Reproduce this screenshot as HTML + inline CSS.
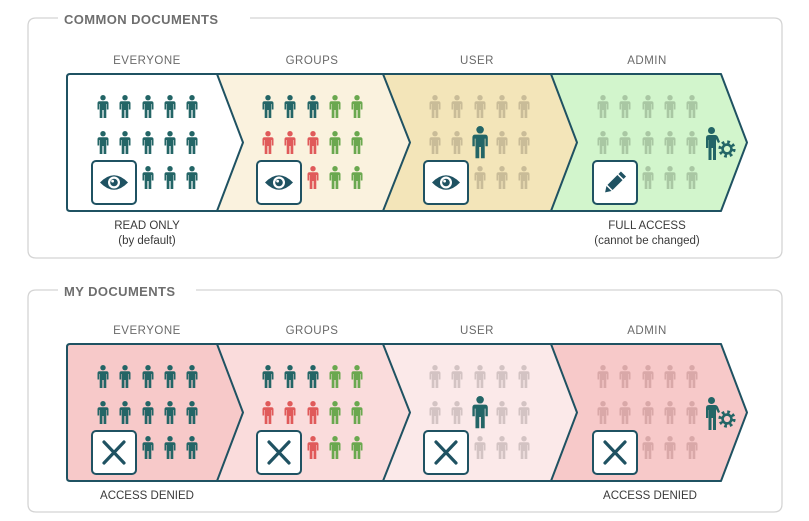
<!DOCTYPE html>
<html><head><meta charset="utf-8"><style>
html,body{margin:0;padding:0;background:#fff;}
svg{display:block;font-family:"Liberation Sans",sans-serif;}
</style></head><body>
<svg width="809" height="521" viewBox="0 0 809 521" xmlns="http://www.w3.org/2000/svg">
<defs>
<symbol id="p" viewBox="0 0 13 23" width="13" height="23" overflow="visible">
<circle cx="6.5" cy="2.7" r="2.7"/>
<path d="M1,8.2 Q1,6.2 3,6.2 H10 Q12,6.2 12,8.2 V14.5 H10.3 V9 H9.8 V23 H7.1 V15 H5.9 V23 H3.2 V9 H2.7 V14.5 H1 Z"/>
</symbol>
<g id="eye">
<rect x="0" y="0" width="44" height="43" rx="4" fill="#fff" stroke="#1f5262" stroke-width="2"/>
<path d="M8,21.5 Q22,7 36,21.5 Q22,36 8,21.5 Z" fill="#1f5262"/>
<circle cx="22" cy="21.5" r="6" fill="#fff"/>
<circle cx="22" cy="21.5" r="3.8" fill="#1f5262"/>
<circle cx="20.6" cy="20.1" r="1.4" fill="#fff"/>
</g>
<g id="xb">
<rect x="0" y="0" width="44" height="43" rx="4" fill="#fff" stroke="#1f5262" stroke-width="2"/>
<path d="M12,11 L32,32 M32,11 L12,32" stroke="#1f5262" stroke-width="3.2" stroke-linecap="round"/>
</g>
<g id="adm">
<circle cx="5.5" cy="3.5" r="3.5" fill="#236566"/>
<path d="M0,11 Q0,8 3,8 H9 Q11,8 12,10 L14,15 L12,16 L10,12 V33 H7 V21 H5.5 V33 H2.5 V13 H2.2 V21 H0 Z" fill="#236566"/>
<circle cx="21" cy="22" r="6.8" fill="none" stroke="#236566" stroke-width="3.6" stroke-dasharray="2.6 2.74"/>
<circle cx="21" cy="22" r="4.4" fill="none" stroke="#236566" stroke-width="2.6"/>
</g>
</defs>

<path d="M58,18 H36 Q28,18 28,26 V250 Q28,258 36,258 H774 Q782,258 782,250 V26 Q782,18 774,18 H250" fill="none" stroke="#d4d4d4" stroke-width="1.3"/>
<text x="64" y="24" font-size="13" font-weight="bold" fill="#6e6e6e" letter-spacing="0.4">COMMON DOCUMENTS</text>
<path d="M58,290 H36 Q28,290 28,298 V504 Q28,512 36,512 H774 Q782,512 782,504 V298 Q782,290 774,290 H196" fill="none" stroke="#d4d4d4" stroke-width="1.3"/>
<text x="64" y="296" font-size="13" font-weight="bold" fill="#6e6e6e" letter-spacing="0.4">MY DOCUMENTS</text>

<g font-size="11.5" fill="#6a6a6a" text-anchor="middle" letter-spacing="0.5">
<text x="147" y="64">EVERYONE</text><text x="312" y="64">GROUPS</text><text x="477" y="64">USER</text><text x="647" y="64">ADMIN</text>
<text x="147" y="334">EVERYONE</text><text x="312" y="334">GROUPS</text><text x="477" y="334">USER</text><text x="647" y="334">ADMIN</text>
</g>

<path d="M70,74 H217 L243,142.5 L217,211 H70 Q67,211 67,208 V77 Q67,74 70,74 Z" fill="#fff"/>
<path d="M217,74 H383 L410,142.5 L383,211 H217 L243,142.5 Z" fill="#faf2de"/>
<path d="M383,74 H551 L577,142.5 L551,211 H383 L410,142.5 Z" fill="#f3e5b9"/>
<path d="M551,74 H721 L747,142.5 L721,211 H551 L577,142.5 Z" fill="#d2f5cc"/>
<g fill="none" stroke="#1f5262" stroke-width="2" stroke-linejoin="round">
<path d="M70,74 H721 L747,142.5 L721,211 H70 Q67,211 67,208 V77 Q67,74 70,74 Z"/>
<path d="M217,74 L243,142.5 L217,211 M383,74 L410,142.5 L383,211 M551,74 L577,142.5 L551,211"/>
</g>

<path d="M70,344 H217 L243,412.5 L217,481 H70 Q67,481 67,478 V347 Q67,344 70,344 Z" fill="#f7c9c9"/>
<path d="M217,344 H383 L410,412.5 L383,481 H217 L243,412.5 Z" fill="#fadcdc"/>
<path d="M383,344 H551 L577,412.5 L551,481 H383 L410,412.5 Z" fill="#fbe9e9"/>
<path d="M551,344 H721 L747,412.5 L721,481 H551 L577,412.5 Z" fill="#f7c9c9"/>
<g fill="none" stroke="#1f5262" stroke-width="2" stroke-linejoin="round">
<path d="M70,344 H721 L747,412.5 L721,481 H70 Q67,481 67,478 V347 Q67,344 70,344 Z"/>
<path d="M217,344 L243,412.5 L217,481 M383,344 L410,412.5 L383,481 M551,344 L577,412.5 L551,481"/>
</g>

<g transform="translate(96.5,95)" fill="#236566">
<use href="#p" x="0" y="0"/><use href="#p" x="22" y="0"/><use href="#p" x="45" y="0"/><use href="#p" x="67" y="0"/><use href="#p" x="89" y="0"/>
<use href="#p" x="0" y="36"/><use href="#p" x="22" y="36"/><use href="#p" x="45" y="36"/><use href="#p" x="67" y="36"/><use href="#p" x="89" y="36"/>
<use href="#p" x="45" y="71"/><use href="#p" x="67" y="71"/><use href="#p" x="89" y="71"/>
</g>
<g transform="translate(261.5,95)">
<g fill="#236566"><use href="#p" x="0" y="0"/><use href="#p" x="22" y="0"/><use href="#p" x="45" y="0"/></g>
<g fill="#6aa84f"><use href="#p" x="67" y="0"/><use href="#p" x="89" y="0"/><use href="#p" x="67" y="36"/><use href="#p" x="89" y="36"/><use href="#p" x="67" y="71"/><use href="#p" x="89" y="71"/></g>
<g fill="#e05a5a"><use href="#p" x="0" y="36"/><use href="#p" x="22" y="36"/><use href="#p" x="45" y="36"/><use href="#p" x="45" y="71"/></g>
</g>
<g transform="translate(428.5,95)" fill="#c9bc98">
<use href="#p" x="0" y="0"/><use href="#p" x="22" y="0"/><use href="#p" x="45" y="0"/><use href="#p" x="67" y="0"/><use href="#p" x="89" y="0"/>
<use href="#p" x="0" y="36"/><use href="#p" x="22" y="36"/><use href="#p" x="67" y="36"/><use href="#p" x="89" y="36"/>
<use href="#p" x="45" y="71"/><use href="#p" x="67" y="71"/><use href="#p" x="89" y="71"/>
</g>
<use href="#p" x="0" y="0" transform="translate(471,126) scale(1.4)" fill="#236566"/>
<g transform="translate(596.5,95)" fill="#a9c7a3">
<use href="#p" x="0" y="0"/><use href="#p" x="22" y="0"/><use href="#p" x="45" y="0"/><use href="#p" x="67" y="0"/><use href="#p" x="89" y="0"/>
<use href="#p" x="0" y="36"/><use href="#p" x="22" y="36"/><use href="#p" x="45" y="36"/><use href="#p" x="67" y="36"/><use href="#p" x="89" y="36"/>
<use href="#p" x="45" y="71"/><use href="#p" x="67" y="71"/><use href="#p" x="89" y="71"/>
</g>
<use href="#adm" transform="translate(706,127)"/>

<g transform="translate(96.5,365)" fill="#236566">
<use href="#p" x="0" y="0"/><use href="#p" x="22" y="0"/><use href="#p" x="45" y="0"/><use href="#p" x="67" y="0"/><use href="#p" x="89" y="0"/>
<use href="#p" x="0" y="36"/><use href="#p" x="22" y="36"/><use href="#p" x="45" y="36"/><use href="#p" x="67" y="36"/><use href="#p" x="89" y="36"/>
<use href="#p" x="45" y="71"/><use href="#p" x="67" y="71"/><use href="#p" x="89" y="71"/>
</g>
<g transform="translate(261.5,365)">
<g fill="#236566"><use href="#p" x="0" y="0"/><use href="#p" x="22" y="0"/><use href="#p" x="45" y="0"/></g>
<g fill="#6aa84f"><use href="#p" x="67" y="0"/><use href="#p" x="89" y="0"/><use href="#p" x="67" y="36"/><use href="#p" x="89" y="36"/><use href="#p" x="67" y="71"/><use href="#p" x="89" y="71"/></g>
<g fill="#e05a5a"><use href="#p" x="0" y="36"/><use href="#p" x="22" y="36"/><use href="#p" x="45" y="36"/><use href="#p" x="45" y="71"/></g>
</g>
<g transform="translate(428.5,365)" fill="#d3c3c3">
<use href="#p" x="0" y="0"/><use href="#p" x="22" y="0"/><use href="#p" x="45" y="0"/><use href="#p" x="67" y="0"/><use href="#p" x="89" y="0"/>
<use href="#p" x="0" y="36"/><use href="#p" x="22" y="36"/><use href="#p" x="67" y="36"/><use href="#p" x="89" y="36"/>
<use href="#p" x="45" y="71"/><use href="#p" x="67" y="71"/><use href="#p" x="89" y="71"/>
</g>
<use href="#p" x="0" y="0" transform="translate(471,396) scale(1.4)" fill="#236566"/>
<g transform="translate(596.5,365)" fill="#d9a8a8">
<use href="#p" x="0" y="0"/><use href="#p" x="22" y="0"/><use href="#p" x="45" y="0"/><use href="#p" x="67" y="0"/><use href="#p" x="89" y="0"/>
<use href="#p" x="0" y="36"/><use href="#p" x="22" y="36"/><use href="#p" x="45" y="36"/><use href="#p" x="67" y="36"/><use href="#p" x="89" y="36"/>
<use href="#p" x="45" y="71"/><use href="#p" x="67" y="71"/><use href="#p" x="89" y="71"/>
</g>
<use href="#adm" transform="translate(706,397)"/>

<use href="#eye" transform="translate(92,161)"/>
<use href="#eye" transform="translate(257,161)"/>
<use href="#eye" transform="translate(424,161)"/>
<g transform="translate(593,161)">
<rect x="0" y="0" width="44" height="43" rx="4" fill="#fff" stroke="#1f5262" stroke-width="2"/>
<g transform="translate(22,21.5) rotate(-45)">
<rect x="-7" y="-3.6" width="14" height="7.2" fill="#1f5262"/>
<rect x="8.5" y="-3.6" width="3.5" height="7.2" fill="#1f5262"/>
<path d="M-8.5,-3.6 L-14,0 L-8.5,3.6 Z" fill="#1f5262"/>
</g>
</g>
<use href="#xb" transform="translate(92,431)"/>
<use href="#xb" transform="translate(257,431)"/>
<use href="#xb" transform="translate(424,431)"/>
<use href="#xb" transform="translate(593,431)"/>

<g font-size="11.5" fill="#3a3a3a" text-anchor="middle">
<text x="147" y="229">READ ONLY</text>
<text x="147" y="244">(by default)</text>
<text x="647" y="229">FULL ACCESS</text>
<text x="647" y="244">(cannot be changed)</text>
<text x="147" y="499">ACCESS DENIED</text>
<text x="650" y="499">ACCESS DENIED</text>
</g>
</svg>
</body></html>
